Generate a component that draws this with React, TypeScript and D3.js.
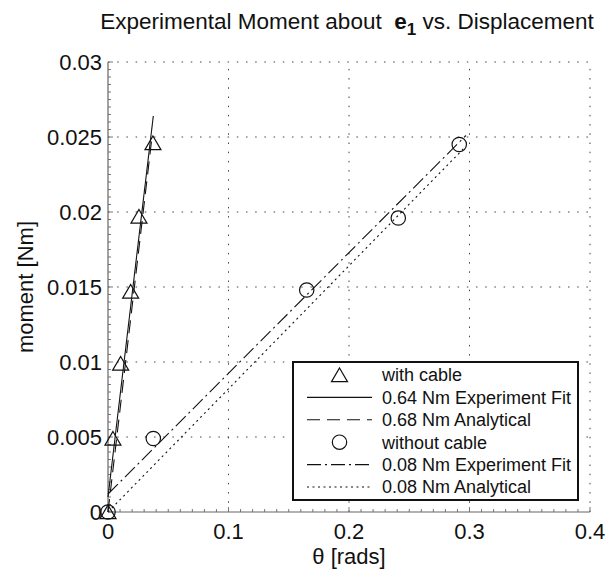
import React from "react";
import * as d3 from "d3";

const withCableTheta = [0, 0.0041, 0.0105, 0.0188, 0.0257, 0.0373];
const withCableMoment = [0, 0.0049, 0.0099, 0.0147, 0.0197, 0.0246];
const withoutCableTheta = [0, 0.0376, 0.1649, 0.2409, 0.2915];
const withoutCableMoment = [0, 0.0049, 0.0148, 0.0196, 0.0245];

const withCableFitTheta = [0, 0.0376];
const withCableFitMoment = [0.001, 0.0264];
const withCableAnaTheta = [0, 0.0365];
const withCableAnaMoment = [0, 0.025];
const withoutCableFitTheta = [0, 0.297];
const withoutCableFitMoment = [0.0012, 0.0251];
const withoutCableAnaTheta = [0, 0.296];
const withoutCableAnaMoment = [0, 0.0243];

const xTicks = [0, 0.1, 0.2, 0.3, 0.4];
const yTicks = [0, 0.005, 0.01, 0.015, 0.02, 0.025, 0.03];
const xTickLabels = ["0", "0.1", "0.2", "0.3", "0.4"];
const yTickLabels = ["0", "0.005", "0.01", "0.015", "0.02", "0.025", "0.03"];

const legendLabels = [
  "with cable",
  "0.64 Nm Experiment Fit",
  "0.68 Nm Analytical",
  "without cable",
  "0.08 Nm Experiment Fit",
  "0.08 Nm Analytical",
];

const W = 606;
const H = 570;
const L = 108, R = 590, T = 62, B = 512;
const FONT = "'Liberation Sans', Arial, Helvetica, sans-serif";

const x = d3.scaleLinear().domain([0, 0.4]).range([L, R]);
const y = d3.scaleLinear().domain([0, 0.03]).range([B, T]);

const DASH = "13,7";
const DASHDOT = "14,4,2,4";
const DOT = "2,3.5";

function Triangle({ cx, cy }: { cx: number; cy: number }) {
  const w = 8, h = 7;
  const p = `M${cx},${cy - h} L${cx + w},${cy + h * 0.95} L${cx - w},${cy + h * 0.95} Z`;
  return <path d={p} fill="none" stroke="#111" strokeWidth={1.2} />;
}
function Circle({ cx, cy }: { cx: number; cy: number }) {
  return <circle cx={cx} cy={cy} r={7.2} fill="none" stroke="#111" strokeWidth={1.2} />;
}

export default function App() {
  const line = d3
    .line<[number, number]>()
    .x((d) => x(d[0]))
    .y((d) => y(d[1]));
  const pts = (a: number[], b: number[]) => a.map((v, i) => [v, b[i]] as [number, number]);

  const minorX = d3.range(0, 41).map((i) => i * 0.01);
  const minorY = d3.range(0, 61).map((i) => i * 0.0005);

  const legX = 293, legY = 362, legW = 285, legH = 138;
  const rowY = (i: number) => legY + 13 + i * 22.4;
  const sx0 = 307, sx1 = 372, tx = 382;

  return (
    <svg width={W} height={H} style={{ position: "absolute", left: 0, top: 0, background: "#fff" }} fontFamily={FONT}>
      <rect x={0} y={0} width={W} height={H} fill="#fff" />
      {/* grid */}
      {xTicks.slice(1).map((t) => (
        <line key={"gx" + t} x1={x(t)} x2={x(t)} y1={B} y2={T} stroke="#444" strokeWidth={1} strokeDasharray="1.5,7.7" />
      ))}
      {yTicks.slice(1).map((t) => (
        <line key={"gy" + t} x1={L} x2={R} y1={y(t)} y2={y(t)} stroke="#444" strokeWidth={1} strokeDasharray="1.5,7.7" />
      ))}
      {/* minor ticks */}
      {minorX.map((t, i) => (
        <line key={"mx" + i} x1={x(t)} x2={x(t)} y1={B} y2={B - (i % 10 === 0 ? 5 : 3)} stroke="#777" strokeWidth={1} />
      ))}
      {minorY.map((t, i) => (
        <line key={"my" + i} x1={L} x2={L + (i % 10 === 0 ? 5 : 3)} y1={y(t)} y2={y(t)} stroke="#777" strokeWidth={1} />
      ))}
      {/* axes */}
      <line x1={L} x2={L} y1={T} y2={B} stroke="#666" strokeWidth={1.2} />
      <line x1={L} x2={R} y1={B} y2={B} stroke="#666" strokeWidth={1.2} />
      {/* tick labels */}
      {xTicks.map((t, i) => (
        <text key={"xl" + t} x={x(t)} y={539} fontSize={22} textAnchor="middle" fill="#111">
          {xTickLabels[i]}
        </text>
      ))}
      {yTicks.map((t, i) => (
        <text key={"yl" + t} x={102} y={y(t)} dy="0.36em" fontSize={22} textAnchor="end" fill="#111">
          {yTickLabels[i]}
        </text>
      ))}
      {/* axis labels */}
      <text x={(L + R) / 2} y={564} fontSize={22} textAnchor="middle" fill="#111">
        θ [rads]
      </text>
      <text transform={`translate(33,${(T + B) / 2}) rotate(-90)`} fontSize={22} textAnchor="middle" fill="#111">
        moment [Nm]
      </text>
      {/* title */}
      <text x={347} y={29} fontSize={22.5} textAnchor="middle" fill="#111" xmlSpace="preserve">
        <tspan>Experimental Moment about  </tspan>
        <tspan fontWeight="bold">e</tspan>
        <tspan fontWeight="bold" fontSize={17} dy={6}>1</tspan>
        <tspan dy={-6}> vs. Displacement</tspan>
      </text>

      {/* lines */}
      <path d={line(pts(withCableFitTheta, withCableFitMoment)) || ""} fill="none" stroke="#111" strokeWidth={1.1} />
      <path d={line(pts(withCableAnaTheta, withCableAnaMoment)) || ""} fill="none" stroke="#111" strokeWidth={1.1} strokeDasharray={DASH} />
      <path d={line(pts(withoutCableFitTheta, withoutCableFitMoment)) || ""} fill="none" stroke="#111" strokeWidth={1.1} strokeDasharray={DASHDOT} />
      <path d={line(pts(withoutCableAnaTheta, withoutCableAnaMoment)) || ""} fill="none" stroke="#111" strokeWidth={1.1} strokeDasharray={DOT} />

      {/* markers */}
      {withCableTheta.map((t, i) => (
        <Triangle key={"tr" + i} cx={x(t)} cy={y(withCableMoment[i])} />
      ))}
      {withoutCableTheta.map((t, i) => (
        <Circle key={"ci" + i} cx={x(t)} cy={y(withoutCableMoment[i])} />
      ))}

      {/* legend */}
      <rect x={legX} y={legY} width={legW} height={legH} fill="#fff" stroke="#111" strokeWidth={2} />
      <Triangle cx={(sx0 + sx1) / 2} cy={rowY(0)} />
      <line x1={sx0} x2={sx1} y1={rowY(1)} y2={rowY(1)} stroke="#111" strokeWidth={1.1} />
      <line x1={sx0} x2={sx1} y1={rowY(2)} y2={rowY(2)} stroke="#111" strokeWidth={1.1} strokeDasharray={DASH} />
      <Circle cx={(sx0 + sx1) / 2} cy={rowY(3)} />
      <line x1={sx0} x2={sx1} y1={rowY(4)} y2={rowY(4)} stroke="#111" strokeWidth={1.1} strokeDasharray={DASHDOT} />
      <line x1={sx0} x2={sx1} y1={rowY(5)} y2={rowY(5)} stroke="#111" strokeWidth={1.1} strokeDasharray={DOT} />
      {legendLabels.map((s, i) => (
        <text key={"lg" + i} x={tx} y={rowY(i)} dy="0.35em" fontSize={18} fill="#111">
          {s}
        </text>
      ))}
    </svg>
  );
}
